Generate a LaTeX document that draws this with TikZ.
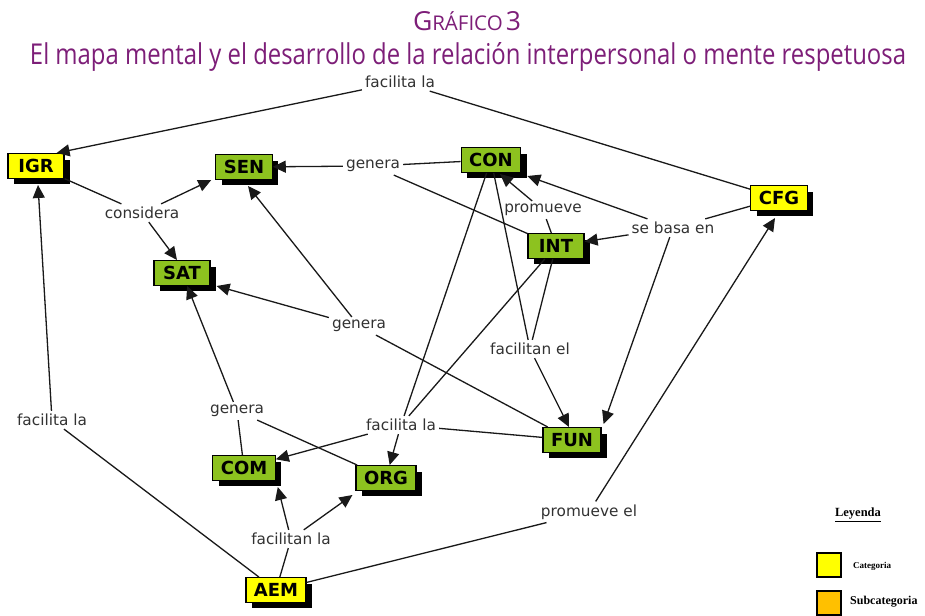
\documentclass[tikz,border=0pt]{standalone}
\usepackage{fontspec}
\setmainfont{DejaVu Sans}
\newfontfamily\titlefont{Open Sans}
\newfontfamily\legfont{Liberation Serif}
\usetikzlibrary{arrows.meta,shadows,calc}
\definecolor{cgreen}{RGB}{141,194,31}
\definecolor{cyellow}{RGB}{255,255,0}
\definecolor{corange}{RGB}{255,192,0}
\definecolor{cpurple}{RGB}{125,30,120}
\definecolor{cline}{RGB}{25,25,25}
\definecolor{ctext}{RGB}{50,50,50}
\tikzset{
 box/.style={draw=black, line width=1.2pt, font=\fontsize{18}{19}\selectfont\bfseries,
   inner xsep=8pt, inner ysep=6pt, text height=12.8pt, text depth=0pt, minimum width=56pt,
   general shadow={fill=black, shadow xshift=6pt, shadow yshift=-6pt}},
 catbox/.style={box, fill=cyellow},
 subbox/.style={box, fill=cgreen},
 lbl/.style={font=\fontsize{15.3}{16}\selectfont, text=ctext, inner sep=3pt},
 ln/.style={draw=cline, line width=1.3pt},
 arr/.style={ln, -{Triangle[length=13pt,width=12pt]}},
 legbox/.style={draw=black, line width=2pt, minimum width=24pt, minimum height=24pt, inner sep=0pt},
 legtxt/.style={font=\legfont\bfseries, inner sep=0pt},
}
\begin{document}
\begin{tikzpicture}[x=1pt,y=-1pt]
\useasboundingbox[fill=white] (0,0) rectangle (925,615);
% title
\node[text=cpurple, inner sep=0pt] (t1) at (467,21)
  {\resizebox{108pt}{19pt}{\titlefont{\fontsize{22}{24}\selectfont G}{\fontsize{17}{20}\selectfont RÁFICO} {\fontsize{22}{24}\selectfont 3}}};
\node[text=cpurple, inner sep=0pt, anchor=base] (t2) at (468,65)
  {\resizebox{876pt}{22pt}{\titlefont\fontsize{20}{24}\selectfont El mapa mental y el desarrollo de la relación interpersonal o mente respetuosa}};
% concept boxes
\node[catbox] (IGR) at (36,166) {IGR};
\node[subbox] (SEN) at (244,167) {SEN};
\node[subbox] (SAT) at (182,273) {SAT};
\node[subbox] (CON) at (491,160) {CON};
\node[catbox] (CFG) at (779,198) {CFG};
\node[subbox] (INT) at (556,246) {INT};
\node[subbox] (FUN) at (572,440) {FUN};
\node[subbox] (COM) at (244,468) {COM};
\node[subbox] (ORG) at (386,478) {ORG};
\node[catbox] (AEM) at (276,590) {AEM};
% linking phrases
\node[lbl] (fl1) at (400,82) {facilita la};
\node[lbl] (cons) at (142,213) {considera};
\node[lbl] (gen1) at (373,166) {genera};
\node[lbl] (prom) at (543,210) {promueve};
\node[lbl] (sbe) at (673,228) {se basa en};
\node[lbl] (gen2) at (359,326) {genera};
\node[lbl] (fel) at (530,349) {facilitan el};
\node[lbl] (fl2) at (52,420) {facilita la};
\node[lbl] (gen3) at (237,411) {genera};
\node[lbl] (fl3) at (401,425) {facilita la};
\node[lbl] (pel) at (589,512) {promueve el};
\node[lbl] (flan) at (291,539) {facilitan la};
% connectors
\draw[ln] (CFG) -- (fl1);
\draw[arr] (fl1) -- ($(IGR.north east)+(-8,0)$);
\draw[ln] (IGR) -- (cons);
\draw[arr] (cons) -- ($(SEN.south west)+(-4,0)$);
\draw[arr] (cons) -- ($(SAT.north)+(-5,0)$);
\draw[ln] (CON) -- (gen1);
\draw[ln] (INT) -- (gen1);
\draw[arr] (gen1) -- (SEN);
\draw[ln] (INT) -- (prom);
\draw[arr] (prom) -- ($(CON.south)+(9,1)$);
\draw[ln] (CFG) -- (sbe);
\draw[arr] (sbe) -- ($(CON.south east)+(6,3)$);
\draw[arr] (sbe) -- (INT);
\draw[arr] (sbe) -- ($(FUN.north east)+(2,-3)$);
\draw[ln] (FUN) -- (gen2);
\draw[arr] (gen2) -- ($(SEN.south)+(4,6)$);
\draw[arr] (gen2) -- ($(SAT.south east)+(6,0)$);
\draw[ln] (CON) -- (fel);
\draw[ln] (INT) -- (fel);
\draw[arr] (fel) -- ($(FUN.north)+(-3,0)$);
\draw[ln] (CON) -- (fl3);
\draw[ln] (INT) -- (fl3);
\draw[ln] (FUN) -- (fl3);
\draw[arr] (fl3) -- (COM);
\draw[arr] (fl3) -- (ORG);
\draw[ln] (COM) -- (gen3);
\draw[ln] (ORG) -- (gen3);
\draw[arr] (gen3) -- (SAT);
\draw[ln] (AEM) -- (fl2);
\draw[arr] (fl2) -- ($(IGR.south)+(2,6)$);
\draw[ln] (AEM) -- (flan);
\draw[arr] (flan) -- ($(COM.south east)+(2,6)$);
\draw[arr] (flan) -- ($(ORG.south west)+(-3,4)$);
\draw[ln] (AEM) -- (pel);
\draw[arr] (pel) -- ($(CFG.south)+(-4,7)$);
% legend
\node[legtxt, font=\legfont\bfseries\fontsize{12.5}{13}\selectfont] (leg) at (858,515) {\underline{Leyenda}};
\node[legbox, fill=cyellow] (lcat) at (829,565) {};
\node[legtxt, anchor=west, font=\legfont\bfseries\fontsize{9}{10}\selectfont] (lcatt) at (853,566) {Categoria};
\node[legbox, fill=corange] (lsub) at (829,603) {};
\node[legtxt, anchor=west, font=\legfont\bfseries\fontsize{12}{13}\selectfont] (lsubt) at (850,602) {Subcategoria};
\end{tikzpicture}
\end{document}
